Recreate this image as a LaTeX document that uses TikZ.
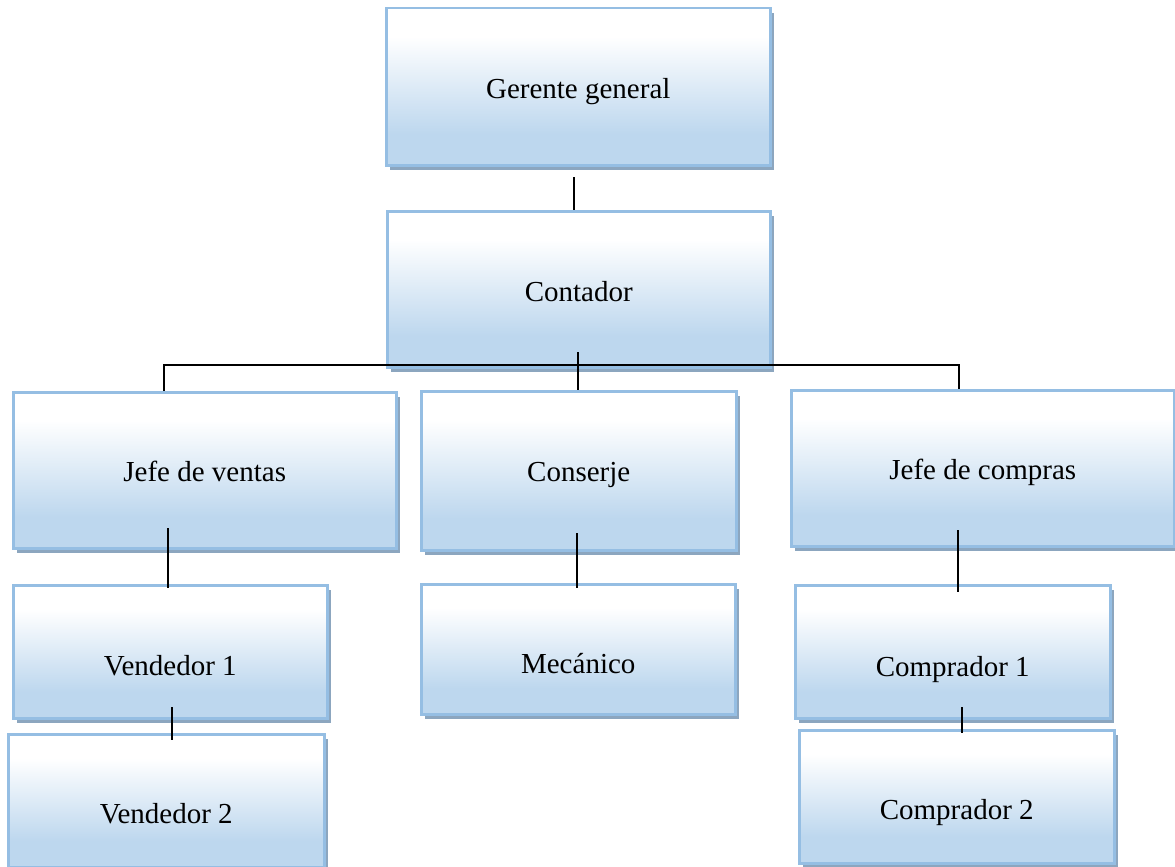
\documentclass[tikz,border=0pt]{standalone}
\usepackage{fontspec}
\setmainfont{Liberation Serif}
\usetikzlibrary{shadows}
\definecolor{boxbot}{HTML}{BDD7EE}
\definecolor{boxline}{HTML}{95BEE3}
\definecolor{shadowcol}{HTML}{8CA6BF}
\pgfdeclareverticalshading{boxshade}{100bp}{color(0bp)=(boxbot); color(25bp)=(boxbot); color(35bp)=(boxbot); color(66bp)=(white); color(75bp)=(white); color(100bp)=(white)}
\begin{document}
\begin{tikzpicture}[x=1pt,y=-1pt,
  orgbox/.style={draw=boxline, line width=2.5pt, shading=boxshade, anchor=north west,
    inner sep=0pt, font=\fontsize{29}{34}\selectfont,
    drop shadow={shadow xshift=4pt, shadow yshift=-5pt, fill=shadowcol, opacity=1}},
  link/.style={black, line width=1.8pt}]
\path[fill=white, use as bounding box] (0,0) rectangle (1175,867);

\node[orgbox, minimum width=384pt, text height=90pt, text depth=67pt] (gg) at (385,7) {Gerente general};
\node[orgbox, minimum width=383pt, text height=90pt, text depth=66pt] (ct) at (386,210) {Contador};
\node[orgbox, minimum width=383pt, text height=89pt, text depth=67pt] (jv) at (12,391) {Jefe de ventas};
\node[orgbox, minimum width=315pt, text height=90pt, text depth=69pt] (cs) at (420,390) {Conserje};
\node[orgbox, minimum width=383pt, text height=89pt, text depth=67pt] (jc) at (790,389) {Jefe de compras};
\node[orgbox, minimum width=314pt, text height=90pt, text depth=43pt] (v1) at (12,584) {Vendedor 1};
\node[orgbox, minimum width=316pt, text height=89pt, text depth=44pt] (v2) at (7,733) {Vendedor 2};
\node[orgbox, minimum width=314pt, text height=89pt, text depth=41pt] (me) at (420,583) {Mecánico};
\node[orgbox, minimum width=315pt, text height=91pt, text depth=42pt] (c1) at (794,584) {Comprador 1};
\node[orgbox, minimum width=315pt, text height=89pt, text depth=44pt] (c2) at (798,729) {Comprador 2};

\coordinate (gc) at (574,177);
\draw[link] (gc) -- (gc |- ct.north);
\coordinate (bl) at (164,365);
\coordinate (br) at (959,365);
\draw[link] (bl |- jv.north) -- (bl) -- (br) -- (br |- jc.north);
\coordinate (cb) at (578,352);
\draw[link] (cb) -- (cb |- cs.north);
\coordinate (jvb) at (168,528);
\draw[link, shorten >=-4pt] (jvb) -- (jvb |- v1.north);
\coordinate (v1b) at (172,707);
\draw[link, shorten >=-7pt] (v1b) -- (v1b |- v2.north);
\coordinate (csb) at (577,533);
\draw[link, shorten >=-5pt] (csb) -- (csb |- me.north);
\coordinate (jcb) at (958,530);
\draw[link, shorten >=-8pt] (jcb) -- (jcb |- c1.north);
\coordinate (c1b) at (962,707);
\draw[link, shorten >=-4pt] (c1b) -- (c1b |- c2.north);
\end{tikzpicture}
\end{document}
